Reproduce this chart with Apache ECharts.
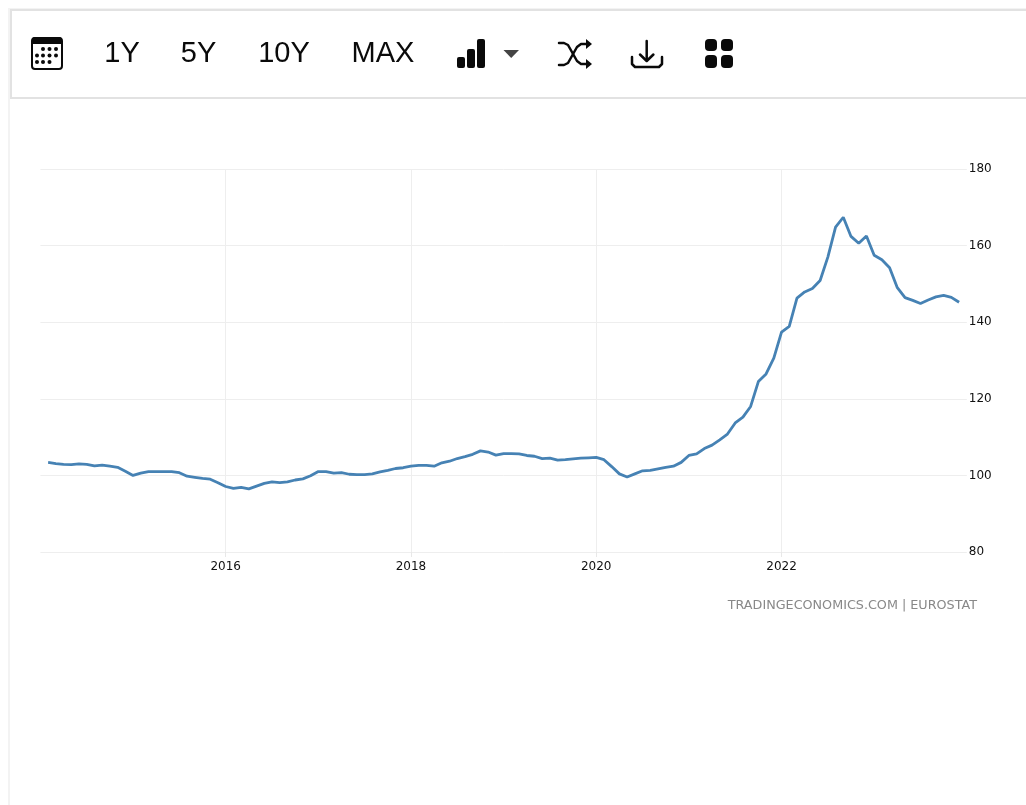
<!DOCTYPE html>
<html>
<head>
<meta charset="utf-8">
<title>Eurostat index</title>
<style>
html, body { margin: 0; padding: 0; background: #fff; }
#chart { width: 1026px; height: 805px; }
</style>
<script src="https://cdn.jsdelivr.net/npm/echarts@6/dist/echarts.min.js"></script>
</head>
<body>
<div id="chart"></div>
<script>
var yearTicks = ['2016-01', '2018-01', '2020-01', '2022-01'];
var rangeButtons = ['1Y', '5Y', '10Y', 'MAX'];
var sourceText = 'TRADINGECONOMICS.COM | EUROSTAT';

// monthly values, 2014-02 to 2023-12, the empty ends only pad the axis
var values = [null,
  103.4, 103.1, 102.9, 102.8, 103.0, 102.9, 102.5, 102.7, 102.4, 102.1, 101.1,
  100.0, 100.6, 101.0, 101.0, 101.0, 101.0, 100.7, 99.8, 99.5, 99.2, 99.0, 98.1,
  97.1, 96.6, 96.9, 96.5, 97.2, 97.9, 98.3, 98.1, 98.3, 98.8, 99.1, 99.9,
  101.0, 101.0, 100.6, 100.7, 100.3, 100.2, 100.2, 100.4, 100.9, 101.3, 101.8, 102.0,
  102.4, 102.6, 102.6, 102.4, 103.3, 103.7, 104.4, 104.9, 105.5, 106.4, 106.1, 105.3,
  105.7, 105.7, 105.6, 105.2, 105.0, 104.4, 104.5, 104.0, 104.1, 104.3, 104.5, 104.6,
  104.7, 104.1, 102.3, 100.4, 99.6, 100.4, 101.2, 101.3, 101.7, 102.1, 102.4, 103.4,
  105.2, 105.6, 107.0, 107.9, 109.3, 110.8, 113.7, 115.2, 118.0, 124.5, 126.5, 130.6,
  137.4, 138.9, 146.3, 147.9, 148.8, 150.9, 157.0, 164.8, 167.4, 162.4, 160.6, 162.5,
  157.5, 156.3, 154.2, 149.0, 146.4, 145.7, 144.9, 145.8, 146.6, 147.0, 146.5, 145.2,
  null];

var months = [];
for (var i = 0; i < values.length; i++) {
  var y = 2014 + Math.floor(i / 12);
  var m = i % 12 + 1;
  months.push(y + '-' + (m < 10 ? '0' + m : m));
}

function isYearTick(index, value) {
  return yearTicks.indexOf(value) !== -1;
}

var ink = '#0a0a0a';
var frame = '#e2e2e2';

function strokeLine(points, width) {
  return {
    type: 'polyline',
    shape: { points: points },
    style: { fill: null, stroke: ink, lineWidth: width, lineCap: 'round', lineJoin: 'round' }
  };
}
function fillShape(points, color) {
  return { type: 'polygon', shape: { points: points }, style: { fill: color || ink } };
}
function box(x, y, w, h, r) {
  return { type: 'rect', shape: { x: x, y: y, width: w, height: h, r: r }, style: { fill: ink } };
}
function dot(x, y) {
  return { type: 'circle', shape: { cx: x, cy: y, r: 2 }, style: { fill: ink } };
}

var toolbar = [
  // page edge and toolbar frame
  { type: 'rect', shape: { x: 8, y: 8, width: 2, height: 797 }, style: { fill: '#f3f3f3' } },
  { type: 'rect', shape: { x: 8, y: 8, width: 1018, height: 2 }, style: { fill: '#f3f3f3' } },
  { type: 'rect', shape: { x: 11, y: 10, width: 1030, height: 88 }, style: { fill: '#fff', stroke: frame, lineWidth: 2 } },
  // calendar
  { type: 'rect', shape: { x: 32, y: 38, width: 30, height: 31, r: 3 }, style: { fill: '#fff', stroke: ink, lineWidth: 2 } },
  box(32, 37, 30, 7, [3, 3, 0, 0]),
  dot(43, 49), dot(49.5, 49), dot(56, 49),
  dot(37, 55.5), dot(43, 55.5), dot(49.5, 55.5), dot(56, 55.5),
  dot(37, 62), dot(43, 62), dot(49.5, 62),
  // bars and dropdown arrow
  box(457, 57, 8, 11, 2), box(467, 49, 8, 19, 2), box(477, 39, 8, 29, 2),
  fillShape([[503.5, 50], [519, 50], [511.2, 58]], '#444'),
  // shuffle
  strokeLine([[559, 43], [564, 43], [568, 45], [577, 61], [581, 64], [587, 64]], 2.5),
  strokeLine([[559, 65], [564, 65], [568, 63], [577, 47], [581, 44], [587, 44]], 2.5),
  fillShape([[586, 39], [592, 44], [586, 49]]),
  fillShape([[586, 59], [592, 64], [586, 69]]),
  // download
  strokeLine([[646.7, 41], [646.7, 60]], 2.5),
  strokeLine([[640, 54.5], [646.7, 61], [653.4, 54.5]], 2.5),
  strokeLine([[632, 57], [632, 64], [635, 67], [659, 67], [662, 64], [662, 57]], 2.5),
  // apps
  box(705, 39, 12, 12, 4), box(721, 39, 12, 12, 4),
  box(705, 55, 12, 13, 4), box(721, 55, 12, 13, 4),
  // source
  {
    type: 'text', x: 977, y: 605.5,
    style: { text: sourceText, align: 'right', verticalAlign: 'middle', fill: '#888888', font: '12.75px "DejaVu Sans"' }
  }
];

var buttonCenters = [122, 198.5, 284, 383];
rangeButtons.forEach(function (label, i) {
  toolbar.push({
    type: 'text', x: buttonCenters[i], y: 53.5,
    style: { text: label, align: 'center', verticalAlign: 'middle', fill: ink, font: '29px "Liberation Sans"' }
  });
});

var myChart = echarts.init(document.getElementById('chart'));
var option = {
  animation: false,
  backgroundColor: '#fff',
  grid: { left: 40.4, right: 59.2, top: 169, bottom: 253 },
  graphic: toolbar,
  xAxis: {
    type: 'category',
    data: months,
    boundaryGap: false,
    axisLine: { show: false },
    axisTick: { show: true, length: 5, interval: isYearTick, lineStyle: { color: '#e8e8e8' } },
    splitLine: { show: true, interval: isYearTick, lineStyle: { color: '#eeeeee' } },
    axisLabel: {
      interval: isYearTick,
      margin: 9,
      color: '#111',
      fontFamily: 'DejaVu Sans',
      fontSize: 12,
      formatter: function (value) { return value.slice(0, 4); }
    }
  },
  yAxis: {
    type: 'value',
    position: 'right',
    min: 80,
    max: 180,
    interval: 20,
    axisLine: { show: false },
    axisTick: { show: false },
    splitLine: { lineStyle: { color: '#eeeeee' } },
    axisLabel: { margin: 2, color: '#111', fontFamily: 'DejaVu Sans', fontSize: 12 }
  },
  series: [
    {
      type: 'line',
      data: values,
      symbol: 'none',
      lineStyle: { color: '#4682b4', width: 2.8 }
    }
  ]
};
option && myChart.setOption(option);
</script>
</body>
</html>
